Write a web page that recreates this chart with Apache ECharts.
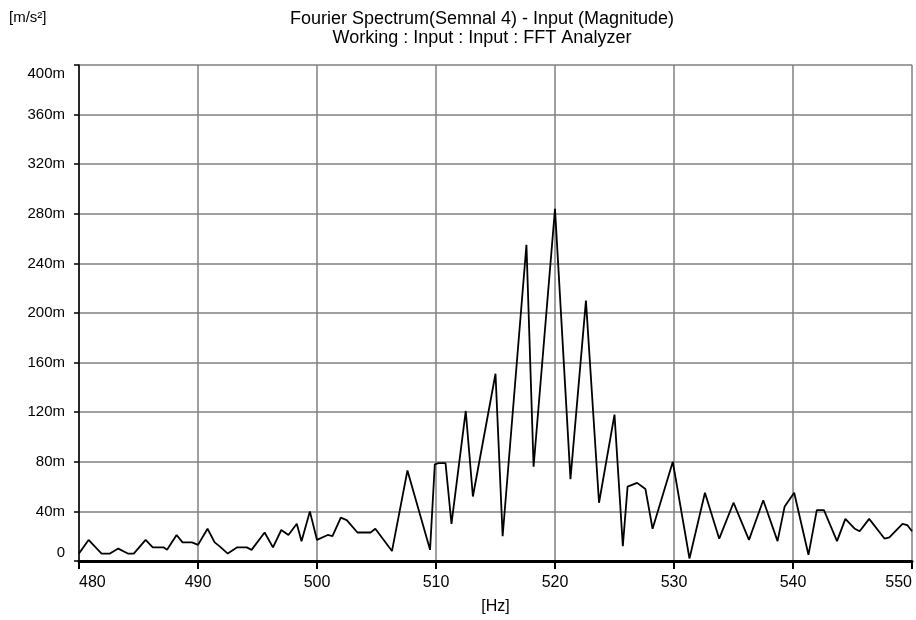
<!DOCTYPE html>
<html>
<head>
<meta charset="utf-8">
<script src="https://cdn.jsdelivr.net/npm/echarts@6/dist/echarts.min.js"></script>
<style>
  html, body { margin: 0; padding: 0; background: #fff; overflow: hidden; }
  #chart { width: 916px; height: 620px; }
</style>
</head>
<body>
<div id="chart"></div>
<script>
// Spectrum samples: frequency in Hz, magnitude in milli m/s²
const freqHz = [
  480.0, 480.8, 481.9, 482.6, 483.3, 484.1, 484.6, 485.6, 486.2, 487.1,
  487.4, 488.2, 488.7, 489.5, 490.0, 490.8, 491.4, 491.8, 492.5, 493.3,
  494.1, 494.5, 495.6, 496.3, 497.0, 497.6, 498.3, 498.7, 499.4, 500.0,
  500.9, 501.3, 502.0, 502.5, 503.4, 504.5, 504.9, 506.3, 507.6, 509.5,
  509.9, 510.2, 510.8, 511.3, 512.5, 513.1, 515.0, 515.6, 517.6, 518.2,
  520.0, 521.3, 522.6, 523.7, 525.0, 525.7, 526.1, 526.9, 527.6, 528.2,
  529.9, 531.3, 532.6, 533.8, 535.0, 536.3, 537.5, 538.7, 539.3, 540.1,
  541.3, 542.0, 542.6, 543.7, 544.4, 545.2, 545.6, 546.4, 547.7, 548.1,
  549.2, 549.6, 550.0
];
const magnitudeMilli = [
  6, 17, 6, 6, 10, 6, 6, 17, 11, 11,
  9, 21, 15, 15, 13, 26, 15, 12, 6, 11,
  11, 9, 23, 11, 25, 21, 30, 16, 40, 17,
  21, 20, 35, 33, 23, 23, 26, 8, 73, 9,
  78, 79, 79, 30, 121, 52, 151, 20, 255, 76,
  284, 66, 210, 47, 118, 12, 60, 63, 58, 26,
  80, 2, 55, 18, 47, 17, 49, 16, 44, 55,
  5, 41, 41, 16, 34, 26, 24, 34, 18, 19,
  30, 29, 24
];
const xTicks = [480, 490, 500, 510, 520, 530, 540, 550];
const yTicks = [0, 40, 80, 120, 160, 200, 240, 280, 320, 360, 400];

const titleText = 'Fourier Spectrum(Semnal 4) - Input (Magnitude)';
const subText = 'Working : Input : Input : FFT Analyzer';
const yUnit = '[m/s²]';
const xUnit = '[Hz]';

const FONT = '"Liberation Sans", Arial, sans-serif';
const points = freqHz.map((f, i) => [f, magnitudeMilli[i]]);
const yMax = yTicks[yTicks.length - 1];

const chart = echarts.init(document.getElementById('chart'), null, { renderer: 'canvas', width: 916, height: 620 });
chart.setOption({
  animation: false,
  backgroundColor: '#ffffff',
  title: {
    text: titleText,
    subtext: subText,
    left: 477,
    top: 5,
    textAlign: 'center',
    itemGap: 1,
    textStyle: { fontFamily: FONT, fontSize: 18, fontWeight: 'normal', color: '#000' },
    subtextStyle: { fontFamily: FONT, fontSize: 18, color: '#000' }
  },
  graphic: [{
    type: 'text',
    left: 9,
    top: 10,
    style: { text: yUnit, fontFamily: FONT, fontSize: 15, fill: '#000' }
  }],
  grid: { left: 79, width: 833, top: 65, height: 500, containLabel: false },
  xAxis: {
    type: 'value',
    min: xTicks[0],
    max: xTicks[xTicks.length - 1],
    interval: 10,
    name: xUnit,
    nameLocation: 'middle',
    nameGap: 38,
    nameTextStyle: { fontFamily: FONT, fontSize: 16, color: '#000' },
    axisLine: { show: true, onZero: false, lineStyle: { color: '#000', width: 3 } },
    axisTick: { show: true, length: 8, lineStyle: { color: '#000', width: 2 } },
    axisLabel: {
      fontFamily: FONT, fontSize: 16, color: '#000', margin: 14,
      alignMinLabel: 'left',
      alignMaxLabel: 'right'
    },
    splitLine: { show: true, lineStyle: { color: '#808080', width: 1.5 } }
  },
  yAxis: {
    type: 'value',
    min: yTicks[0],
    max: yMax,
    interval: 40,
    axisLine: { show: true, lineStyle: { color: '#000', width: 1.5 } },
    axisTick: { show: true, length: 5, lineStyle: { color: '#000', width: 1.5 } },
    axisLabel: {
      fontFamily: FONT, fontSize: 15, color: '#000', margin: 14,
      formatter: v => (v === 0 ? '{z|0}' : v === yMax ? '{t|' + v + 'm}' : v + 'm'),
      rich: {
        z: { fontFamily: FONT, fontSize: 15, color: '#000', padding: [0, 0, 16, 0] },
        t: { fontFamily: FONT, fontSize: 15, color: '#000', padding: [18, 0, 0, 0] }
      }
    },
    splitLine: { show: true, lineStyle: { color: '#808080', width: 1.5 } }
  },
  series: [{
    type: 'line',
    data: points,
    showSymbol: false,
    symbol: 'none',
    lineStyle: { color: '#000', width: 1.8 },
    z: 5
  }]
});
</script>
</body>
</html>
